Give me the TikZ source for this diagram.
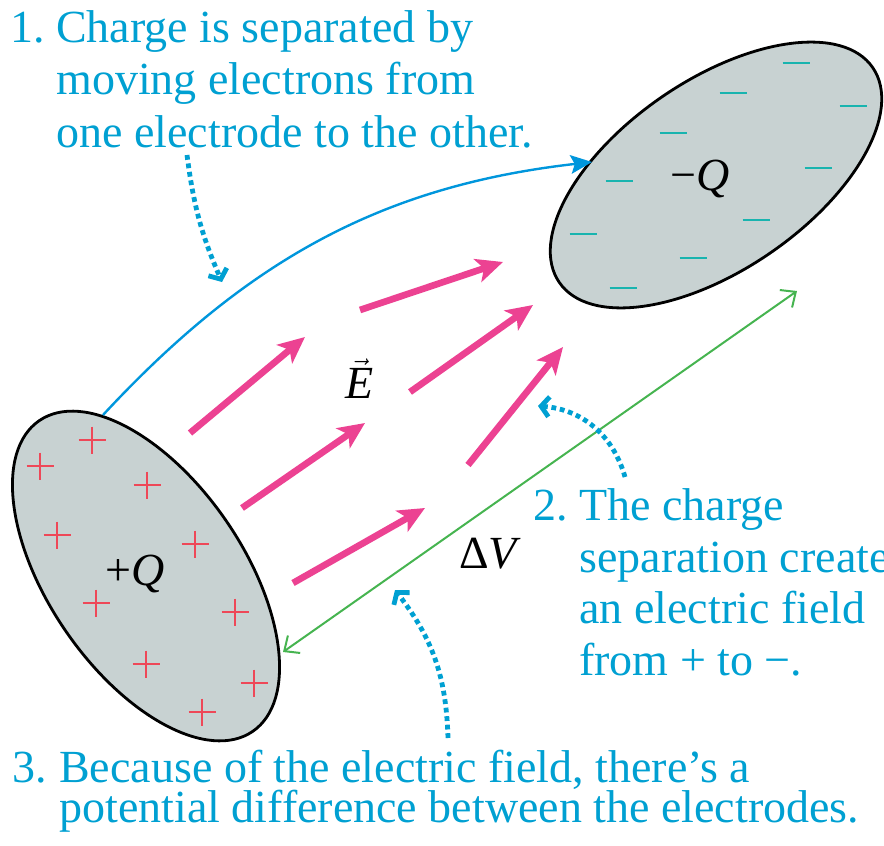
\documentclass[tikz,border=0pt]{standalone}
\usepackage{fontspec}
\IfFontExistsTF{LiberationSerif-Regular.ttf}
  {\setmainfont{LiberationSerif-Regular.ttf}[ItalicFont=LiberationSerif-Italic.ttf, BoldFont=LiberationSerif-Bold.ttf, BoldItalicFont=LiberationSerif-BoldItalic.ttf]}
  {\setmainfont{Liberation Serif}}
\usetikzlibrary{arrows.meta,shapes.geometric}
\definecolor{notecyan}{RGB}{0,160,210}
\definecolor{curveblue}{RGB}{0,150,220}
\definecolor{fieldpink}{RGB}{236,66,146}
\definecolor{potgreen}{RGB}{70,180,80}
\definecolor{electrodefill}{RGB}{200,210,210}
\definecolor{minusteal}{RGB}{25,180,175}
\definecolor{plusred}{RGB}{238,72,88}
\begin{document}
\begin{tikzpicture}[x=0.75pt,y=0.75pt,
  electrode/.style={ellipse, draw=black, line width=2.1pt, fill=electrodefill, inner sep=0pt, outer sep=0pt},
  minusmark/.style={draw=minusteal, line width=1.9pt},
  plusmark/.style={draw=plusred, line width=1.7pt},
  note/.style={text=notecyan, font=\fontsize{34.5}{39}\selectfont, anchor=base west, inner sep=0pt},
  mathlbl/.style={text=black, font=\fontsize{34.5}{39}\selectfont, anchor=base west, inner sep=0pt},
  efield/.style={draw=fieldpink, line width=5pt, -{Stealth[length=20pt,width=18pt,inset=5pt]}},
  transfer/.style={draw=curveblue, line width=1.8pt, -{Stealth[length=16pt,width=14pt,inset=3pt]}},
  potential/.style={draw=potgreen, line width=1.5pt, {Straight Barb[length=9pt,width=16pt]}-{Straight Barb[length=9pt,width=16pt]}},
  pointer/.style={draw=notecyan, line width=3.6pt, dash pattern=on 3.6pt off 2.8pt, -{Straight Barb[length=6pt,width=15pt]}}
]
\useasboundingbox (0,0) rectangle (884,-845);

% electrodes
\node[electrode, rotate=34.4, minimum width=285pt, minimum height=142.5pt] (negel) at (716,-175) {};
\node[electrode, rotate=-55.5, minimum width=282.75pt, minimum height=146pt] (posel) at (146,-576) {};

% charges
\foreach \x/\y in {796/63,733/93,853/106,673/133,619/181,818/168,756/220,583/234,693/258,623/288}
  \draw[minusmark] (\x-13.5,-\y) -- ++(27,0);
\foreach \x/\y in {92/440,40/466,147/485,57/535,195/544,96/603,235/612,146/664,254/683,202/712}
  {\draw[plusmark] (\x-13.5,-\y) -- ++(27,0);
   \draw[plusmark] (\x,-\y+13.5) -- ++(0,-27);}

\node[mathlbl] (qneg) at (670,-190) {−\textit{Q}};
\node[mathlbl] (qpos) at (105,-585) {+\textit{Q}};

% electric field arrows
\foreach \i/\a/\b/\c/\d in {1/360/310/503/262, 2/190/433/305/337, 3/410/392/533/305,
                            4/242/508/365/423, 5/468/465/563/347, 6/293/583/425/508}
  {\coordinate (f\i s) at (\a,-\b);
   \coordinate (f\i t) at (\c,-\d);
   \draw[efield] (f\i s) -- (f\i t);}
\node[mathlbl] (efieldlbl) at (345,-398) {$\vec{\textit{E}}$};

% electron transfer curve
\coordinate (tstart) at (103,-415);
\coordinate (tend) at (592,-162);
\draw[transfer] (tstart) .. controls (245,-262) and (380,-186) .. (tend);

% potential difference
\coordinate (vlow) at (283,-652);
\coordinate (vhigh) at (797,-291);
\draw[potential] (vlow) -- (vhigh);
\node[mathlbl] (dv) at (459,-568) {Δ\textit{V}};

% notes
\node[note] (n1) at (10,-43) {1.};
\node[note] (n1a) at (56,-43) {Charge is separated by};
\node[note] (n1b) at (56,-95) {moving electrons from};
\node[note] (n1c) at (56,-147) {one electrode to the other.};

\node[note] (n2) at (533,-520) {2.};
\node[note] (n2a) at (579,-520) {The charge};
\node[note] (n2b) at (579,-572) {separation creates};
\node[note] (n2c) at (579,-623) {an electric field};
\node[note] (n2d) at (579,-675) {from + to −.};

\node[note] (n3) at (12,-782) {3.};
\node[note] (n3a) at (59,-782) {Because of the electric field, there’s a};
\node[note] (n3b) at (59,-822) {potential difference between the electrodes.};

% pointers
\coordinate (p1s) at (187,-155);
\coordinate (p1t) at (222,-282);
\draw[pointer] (p1s) to[bend right=8] (p1t);
\coordinate (p2s) at (625,-477);
\coordinate (p2t) at (538,-406);
\draw[pointer] (p2s) to[bend right=35] (p2t);
\coordinate (p3s) at (448,-738);
\coordinate (p3t) at (395,-590);
\draw[pointer] (p3s) to[bend right=18] (p3t);
\end{tikzpicture}
\end{document}
